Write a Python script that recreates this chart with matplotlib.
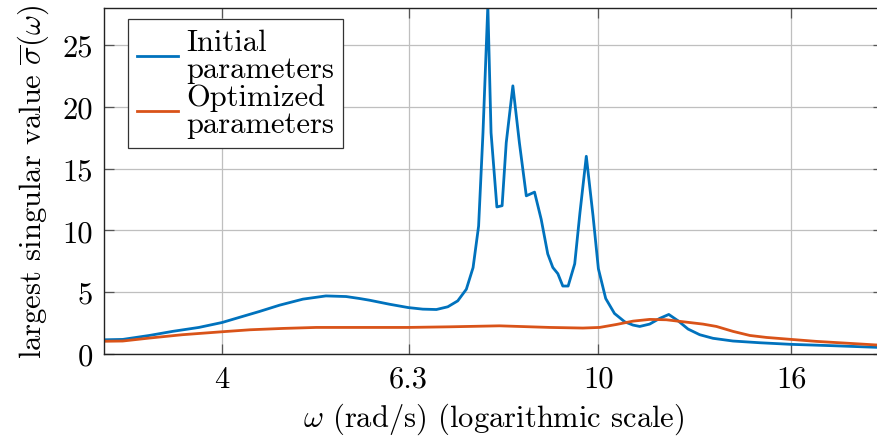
import matplotlib
matplotlib.use("Agg")
import matplotlib.pyplot as plt
from matplotlib.ticker import FixedLocator, FixedFormatter, NullLocator

plt.rcParams["font.family"] = "serif"
plt.rcParams["font.serif"] = ["cmr10", "DejaVu Serif"]
plt.rcParams["mathtext.fontset"] = "cm"
plt.rcParams["axes.formatter.use_mathtext"] = True

# Largest singular value of the closed-loop response, initial parameters
freq_initial = [3.00, 3.14, 3.35, 3.545, 3.78, 4.00, 4.17, 4.38, 4.60, 4.87,
                5.15, 5.41, 5.59, 5.73, 6.01, 6.29, 6.52, 6.74, 6.93, 7.10,
                7.25, 7.37, 7.47, 7.55, 7.64, 7.70, 7.81, 7.91, 7.99, 8.12,
                8.25, 8.39, 8.56, 8.70, 8.84, 8.95, 9.06, 9.17, 9.29, 9.44,
                9.56, 9.71, 9.87, 10.00, 10.18, 10.40, 10.66, 10.88, 11.06, 11.33,
                11.61, 11.87, 12.14, 12.44, 12.80, 13.22, 13.88, 14.82, 16.00, 17.71,
                19.69, 20.00]
sigma_initial = [1.15, 1.18, 1.50, 1.83, 2.15, 2.55, 2.96, 3.44, 3.95, 4.44,
                 4.70, 4.65, 4.49, 4.35, 4.03, 3.76, 3.63, 3.60, 3.82, 4.30,
                 5.24, 6.99, 10.35, 17.9, 28.2, 17.9, 11.9, 12.0, 17.1, 21.7,
                 17.1, 12.8, 13.1, 10.9, 8.1, 7.0, 6.5, 5.5, 5.5, 7.3,
                 11.4, 16.0, 11.2, 6.9, 4.49, 3.28, 2.61, 2.34, 2.23, 2.42,
                 2.88, 3.20, 2.69, 2.02, 1.56, 1.27, 1.05, 0.91, 0.78, 0.67,
                 0.54, 0.53]

# Largest singular value after parameter optimization
freq_optimized = [3.00, 3.14, 3.35, 3.63, 4.00, 4.28, 4.64, 5.03, 5.59, 6.29,
                  6.96, 7.86, 8.88, 9.63, 10.03, 10.45, 10.88, 11.33, 11.80, 12.29,
                  12.90, 13.33, 13.88, 14.46, 15.06, 16.00, 17.01, 18.45, 19.69, 20.00]
sigma_optimized = [1.03, 1.05, 1.29, 1.56, 1.80, 1.96, 2.07, 2.15, 2.15, 2.15,
                   2.20, 2.28, 2.15, 2.10, 2.15, 2.39, 2.66, 2.80, 2.77, 2.61,
                   2.42, 2.23, 1.83, 1.50, 1.34, 1.18, 1.02, 0.86, 0.73, 0.71]

x_ticks = [4, 6.3, 10, 16]
x_tick_labels = ["4", "6.3", "10", "16"]
y_ticks = [0, 5, 10, 15, 20, 25]

W, H = 877, 439
fig = plt.figure(figsize=(W / 100, H / 100), dpi=100)
ax = fig.add_axes([104 / W, (H - 355) / H, (883 - 104) / W, (355 - 9) / H])

ax.plot(freq_initial, sigma_initial, color="#0072BD", lw=2.0,
        label="Initial\nparameters")
ax.plot(freq_optimized, sigma_optimized, color="#D95319", lw=2.0,
        label="Optimized\nparameters")

ax.set_xscale("log")
ax.set_xlim(3.0, 20.0)
ax.set_ylim(0, 28)

ax.xaxis.set_major_locator(FixedLocator(x_ticks))
ax.xaxis.set_major_formatter(FixedFormatter(x_tick_labels))
ax.xaxis.set_minor_locator(NullLocator())
ax.set_yticks(y_ticks)
ax.set_yticklabels([str(v) for v in y_ticks])

ax.grid(True, color="#bfbfbf", lw=0.9)
ax.set_axisbelow(True)
ax.tick_params(which="both", direction="in", top=True, right=True,
               length=7.5, width=0.9, color="#555555", labelsize=22, pad=8)

for s in ax.spines.values():
    s.set_linewidth(1.0)
    s.set_color("#222222")

ax.set_xlabel(r"$\omega$ (rad/s) (logarithmic scale)", fontsize=22, labelpad=6)
ax.set_ylabel(r"largest singular value $\overline{\sigma}(\omega)$", fontsize=22,
              labelpad=8)

leg = ax.legend(loc="upper left", bbox_to_anchor=(24 / 779, 1 - 11 / 346),
                prop={"size": 22}, frameon=True, fancybox=False, framealpha=1,
                edgecolor="#333333", handlelength=1.35, handletextpad=0.25,
                borderpad=0.3, labelspacing=0.0, borderaxespad=0)
for t in leg.get_texts():
    t.set_linespacing(1.0)
leg.get_frame().set_linewidth(0.9)

fig.savefig("out.png", dpi=100)
